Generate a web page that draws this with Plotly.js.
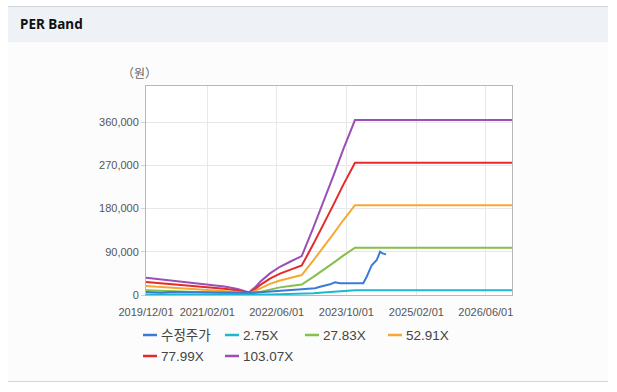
<!DOCTYPE html>
<html>
<head>
<meta charset="utf-8">
<script src="https://cdn.plot.ly/plotly-3.0.1.min.js"></script>
<style>
  html, body { margin: 0; padding: 0; background: #ffffff; }
  #wrap { position: relative; width: 617px; height: 392px; overflow: hidden; }
  #panel { position: absolute; left: 8px; top: 6px; width: 600px; height: 374px;
           background: #fcfcfc; border-top: 1px solid #cfd3d8; border-bottom: 1px solid #d6d6d6; }
  #head { position: absolute; left: 0; top: 0; width: 600px; height: 35px; background: #eef2f7;
          font-family: "Noto Sans", "Noto Sans CJK KR", sans-serif; font-weight: bold; font-size: 13.5px;
          color: #111; line-height: 35px; padding-left: 12px; box-sizing: border-box; }
  #chart { position: absolute; left: 0; top: 0; width: 617px; height: 392px; }
</style>
</head>
<body>
<div id="wrap">
  <div id="panel"><div id="head">PER Band</div></div>
  <div id="chart"></div>
</div>
<script>
// ---- data ----
const bandDates = ["2019-12-01","2020-03-01","2020-06-01","2020-09-01","2020-12-01","2021-03-01",
  "2021-06-01","2021-09-01","2021-11-20","2022-01-01","2022-02-04","2022-04-15","2022-06-24",
  "2022-09-02","2022-11-23","2023-02-12","2023-04-23","2023-07-02","2023-09-09",
  "2023-11-30","2026-12-01"];
const band275 = [960,880,790,710,640,560,470,330,150,430,720,1200,1570,1850,2160,3740,5120,6620,8080,9710,9710];
const band2783 = [9720,8910,7970,7160,6480,5670,4730,3380,1490,4320,7290,12150,15880,18690,21870,37800,51840,66960,81810,98280,98280];
const band5291 = [18480,16940,15140,13600,12320,10780,8980,6420,2820,8210,13860,23100,30180,35520,41580,71870,98560,127310,155540,186860,186860];
const band7799 = [27240,24970,22320,20050,18160,15890,13240,9460,4160,12110,20430,34050,44490,52360,61290,105930,145280,187650,229270,275430,275430];
const band10307 = [36000,33000,29500,26500,24000,21000,17500,12500,5500,16000,27000,45000,58800,69200,81000,140000,192000,248000,303000,364000,364000];

const priceDates = ["2019-12-01","2020-03-20","2020-06-01","2020-12-01","2021-06-01","2021-12-01",
  "2022-03-01","2022-06-01","2022-09-01","2022-11-23","2023-02-24","2023-03-31","2023-06-09",
  "2023-07-13","2023-08-17","2024-01-27","2024-02-20","2024-03-26","2024-04-30","2024-05-23",
  "2024-06-10","2024-07-04"];
const priceValues = [6500,4500,6000,5500,5000,4500,6500,8000,9000,11800,13900,17300,22200,
  26400,24300,24300,38000,62000,72700,90000,86600,84600];

const seriesNames = ["수정주가","2.75X","27.83X","52.91X","77.99X","103.07X"];
const seriesColors = ["#3a7bd5","#1db8cc","#86bf4a","#f6a834","#e42a2a","#9b4fb4"];

const xTickVals = ["2019-12-01","2021-02-01","2022-06-01","2023-10-01","2025-02-01","2026-06-01"];
const xTickText = ["2019/12/01","2021/02/01","2022/06/01","2023/10/01","2025/02/01","2026/06/01"];
const yTickVals = [0,90000,180000,270000,360000];
const yUnit = "（원）";

// ---- traces ----
const seriesX = [priceDates, bandDates, bandDates, bandDates, bandDates, bandDates];
const seriesY = [priceValues, band275, band2783, band5291, band7799, band10307];
const drawOrder = [5,4,3,2,1,0];
const traces = drawOrder.map(i => ({
  type: "scatter", mode: "lines", name: seriesNames[i],
  x: seriesX[i], y: seriesY[i],
  line: { color: seriesColors[i], width: 2 },
  showlegend: false, hoverinfo: "skip"
}));

// ---- custom legend (layout only) ----
const L = 146, R = 512, T = 86, B = 295;
const px = v => (v - L) / (R - L);
const py = v => (B - v) / (B - T);
const legendPos = [[143,335],[225,335],[305,335],[388,335],[143,356],[225,356]];
const shapes = [], annotations = [];
seriesNames.forEach((n, i) => {
  const [lx, ly] = legendPos[i];
  shapes.push({ type: "line", xref: "paper", yref: "paper", x0: px(lx), x1: px(lx + 14),
    y0: py(ly), y1: py(ly), line: { color: seriesColors[i], width: 2.5 } });
  annotations.push({ xref: "paper", yref: "paper", x: px(lx + 16), y: py(ly), xanchor: "left",
    yanchor: "middle", text: n, showarrow: false,
    font: { family: "Liberation Sans, Noto Sans CJK KR, sans-serif", size: 13.5, color: "#444" } });
});
annotations.push({ xref: "paper", yref: "paper", x: px(139), y: py(72), xanchor: "center", yanchor: "middle",
  text: yUnit, showarrow: false, font: { family: "Noto Sans CJK KR, sans-serif", size: 12, color: "#666" } });

const tickFont = { family: "Liberation Sans, Arial, sans-serif", size: 11, color: "#555" };
const layout = {
  width: 617, height: 392,
  margin: { l: L, r: 617 - R, t: T, b: 392 - B, pad: 0 },
  paper_bgcolor: "rgba(0,0,0,0)", plot_bgcolor: "#ffffff",
  showlegend: false,
  xaxis: { type: "date", range: ["2019-12-01", "2026-12-01"], tickvals: xTickVals, ticktext: xTickText,
    showgrid: true, gridcolor: "#e8e8e8", gridwidth: 1, showline: true, linecolor: "#b8b8b8", linewidth: 1,
    mirror: true, ticks: "", ticklabelstandoff: 7, tickfont: tickFont, zeroline: false, fixedrange: true },
  yaxis: { range: [0, 435000], tickvals: yTickVals, tickformat: ",d", showgrid: true, gridcolor: "#e8e8e8",
    gridwidth: 1, showline: true, linecolor: "#b8b8b8", linewidth: 1, mirror: true, ticks: "outside",
    ticklen: 4, tickcolor: "#d0d0d0", tickfont: tickFont, zeroline: false, fixedrange: true },
  shapes: shapes, annotations: annotations
};
Plotly.newPlot("chart", traces, layout, { displayModeBar: false, staticPlot: true });
</script>
</body>
</html>
